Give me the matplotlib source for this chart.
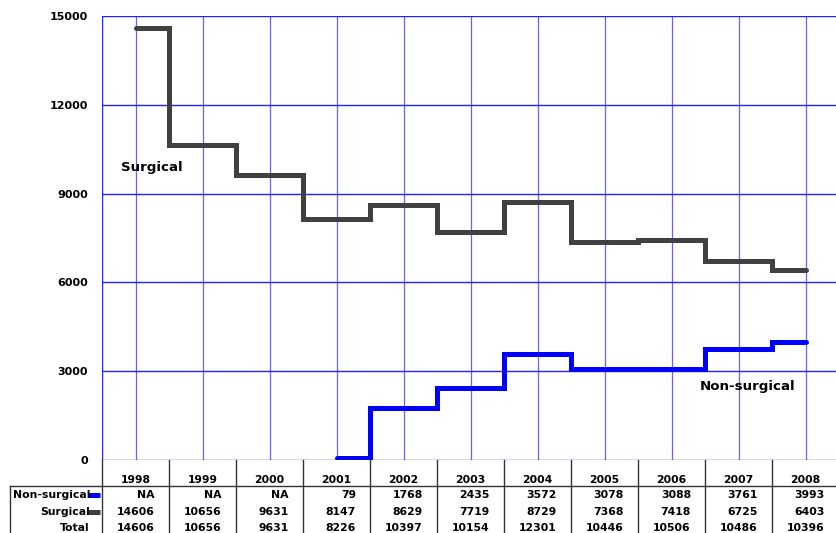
import numpy as np
import matplotlib
matplotlib.use("Agg")
import matplotlib.pyplot as plt
from matplotlib.transforms import blended_transform_factory
from matplotlib.lines import Line2D

years = ["1998", "1999", "2000", "2001", "2002", "2003", "2004", "2005", "2006", "2007", "2008"]
non_surgical = [None, None, None, 79, 1768, 2435, 3572, 3078, 3088, 3761, 3993]
surgical = [14606, 10656, 9631, 8147, 8629, 7719, 8729, 7368, 7418, 6725, 6403]
total = [14606, 10656, 9631, 8226, 10397, 10154, 12301, 10446, 10506, 10486, 10396]
yticks = [0, 3000, 6000, 9000, 12000, 15000]

W, H = 836, 533
plt.rcParams['font.family'] = ['DejaVu Sans']
fig = plt.figure(figsize=(W / 100, H / 100), dpi=100)

def fx(px):
    return px / W

def fy(py):
    return 1 - py / H

ax = fig.add_axes([fx(102), fy(460), fx(839) - fx(102), fy(16) - fy(460)])
n = len(years)
x = np.arange(n)
ax.set_xlim(-0.5, n - 0.5)
ax.set_ylim(0, 15000)

grid_c = '#2222ff'
for xi in x:
    ax.axvline(xi, color=grid_c, lw=0.9, alpha=0.7, zorder=1)
for yt in yticks:
    ax.axhline(yt, color=grid_c, lw=1.0, zorder=1)
for s in ax.spines.values():
    s.set_visible(False)
ax.axvline(-0.5, color=grid_c, lw=1.0, zorder=1)

ax.set_yticks(yticks)
ax.set_yticklabels([str(v) for v in yticks], fontsize=8, fontweight='bold')
ax.tick_params(axis='y', length=0, pad=10)
ax.set_xticks([])

surg_c = '#404040'
non_c = '#0000ff'
ax.step(x, surgical, where='mid', color=surg_c, lw=3.6, solid_capstyle='round',
        solid_joinstyle='miter', zorder=3)
idx = [i for i, v in enumerate(non_surgical) if v is not None]
ax.step([x[i] for i in idx], [non_surgical[i] for i in idx], where='mid', color=non_c,
        lw=3.6, solid_capstyle='round', solid_joinstyle='miter', zorder=3)

ax.text(-0.21, 9870, "Surgical", fontsize=9.6, fontweight='bold', va='center', ha='left')
ax.text(8.42, 2480, "Non-surgical", fontsize=9.6, fontweight='bold', va='center', ha='left')

# table below
tr = blended_transform_factory(ax.transData, fig.transFigure)
line_c = '#333333'
for k in range(-1, n):
    fig.add_artist(Line2D([k + 0.5, k + 0.5], [fy(460), fy(540)], transform=tr,
                          color=line_c, lw=1.0))
fig.add_artist(Line2D([fx(10), fx(10)], [fy(486), fy(540)], transform=fig.transFigure,
                      color=line_c, lw=1.0))
fig.add_artist(Line2D([fx(10), fx(840)], [fy(486), fy(486)], transform=fig.transFigure,
                      color=line_c, lw=1.0))

fs = 7.8
row_y = [fy(495), fy(512), fy(528)]
for i, yr in enumerate(years):
    fig.text(x[i], fy(480), yr, transform=tr, ha='center', va='center',
             fontsize=fs, fontweight='bold')
    vals = ["NA" if non_surgical[i] is None else str(non_surgical[i]),
            str(surgical[i]), str(total[i])]
    for v, yy in zip(vals, row_y):
        fig.text(x[i] + 0.29, yy, v, transform=tr, ha='right', va='center',
                 fontsize=fs, fontweight='bold')

labels = ["Non-surgical", "Surgical", "Total"]
for lab, yy in zip(labels, row_y):
    fig.text(fx(90), yy, lab, ha='right', va='center', fontsize=fs, fontweight='bold')
for c, yy in [(non_c, row_y[0]), (surg_c, row_y[1])]:
    fig.add_artist(Line2D([fx(88), fx(100)], [yy, yy], transform=fig.transFigure,
                          color=c, lw=3.6, solid_capstyle='butt'))

fig.savefig("out.png", dpi=100)
